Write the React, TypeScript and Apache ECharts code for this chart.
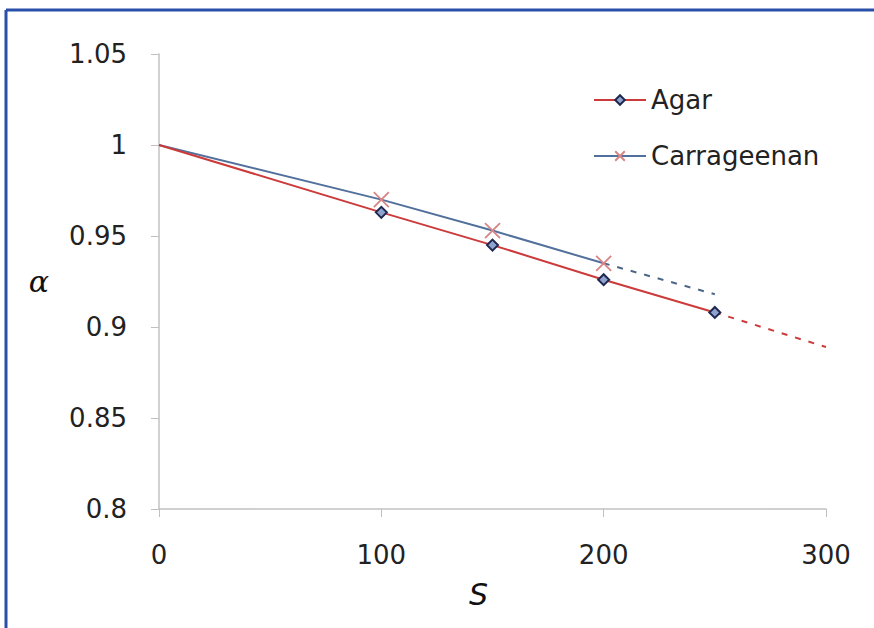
import React, { useEffect, useRef } from "react";
import * as echarts from "echarts";

const sAgar = [0, 100, 150, 200, 250];
const alphaAgar = [1, 0.963, 0.945, 0.926, 0.908];
const sCarr = [0, 100, 150, 200];
const alphaCarr = [1, 0.970, 0.953, 0.935];
const sAgarExt = [250, 300];
const alphaAgarExt = [0.908, 0.889];
const sCarrExt = [200, 250];
const alphaCarrExt = [0.935, 0.918];

const xTicks = { min: 0, max: 300, interval: 100 };
const yTicks = { min: 0.8, max: 1.05, interval: 0.05 };

// first point (origin of curve) drawn without a marker, as in the reference
const pair = (xs: number[], ys: number[]) =>
  xs.map((x, i) => (i === 0 ? { value: [x, ys[i]], symbol: "none" } : { value: [x, ys[i]] }));
const plain = (xs: number[], ys: number[]) => xs.map((x, i) => [x, ys[i]]);

const RED = "#cc3a3a";
const BLUE = "#52709c";
const FONT = "DejaVu Sans";
const FS = 26;

export default function App() {
  const ref = useRef<HTMLDivElement>(null);
  useEffect(() => {
    document.body.style.margin = "0";
    const chart = echarts.init(ref.current!, null, { renderer: "svg" });
    chart.setOption({
      animation: false,
      backgroundColor: "#ffffff",
      textStyle: { fontFamily: FONT },
      grid: { left: 159, right: 48, top: 54, bottom: 119 },
      legend: {
        orient: "vertical",
        left: 588,
        top: 82,
        itemWidth: 52,
        itemHeight: 12,
        itemGap: 30,
        textStyle: { fontSize: FS, color: "#222", fontFamily: FONT },
        data: ["Agar", "Carrageenan"],
      },
      xAxis: {
        type: "value",
        ...xTicks,
        name: "S",
        nameLocation: "middle",
        nameGap: 70,
        nameTextStyle: {
          fontSize: 30,
          fontStyle: "italic",
          color: "#111",
          fontFamily: "DejaVu Sans",
          padding: [0, 28, 0, 0],
        },
        axisLine: { lineStyle: { color: "#c4c0c0", width: 1.5 } },
        axisTick: { show: true, length: 8, lineStyle: { color: "#c4c0c0" } },
        axisLabel: { fontSize: FS, color: "#222", margin: 33 },
        splitLine: { show: false },
      },
      yAxis: {
        type: "value",
        ...yTicks,
        name: "α",
        nameLocation: "middle",
        nameRotate: 0,
        nameGap: 110,
        nameTextStyle: { fontSize: 30, fontStyle: "italic", color: "#111", fontFamily: "DejaVu Serif" },
        axisLine: { show: true, lineStyle: { color: "#c4c0c0", width: 1.5 } },
        axisTick: { show: true, length: 8, lineStyle: { color: "#c4c0c0" } },
        axisLabel: { fontSize: FS, color: "#222", margin: 32 },
        splitLine: { show: false },
      },
      series: [
        {
          name: "Agar",
          type: "line",
          data: pair(sAgar, alphaAgar),
          lineStyle: { color: RED, width: 2 },
          symbol: "diamond",
          symbolSize: 11,
          showSymbol: true,
          itemStyle: { color: "#8fa3cf", borderColor: "#1f2850", borderWidth: 2 },
          z: 3,
        },
        {
          name: "Carrageenan",
          type: "line",
          data: pair(sCarr, alphaCarr),
          lineStyle: { color: BLUE, width: 2 },
          symbol: "path://M0,0L10,10M10,0L0,10",
          symbolSize: 15,
          itemStyle: { color: "rgba(0,0,0,0)", borderColor: "#d88585", borderWidth: 1.8 },
          z: 2,
        },
        {
          name: "AgarExt",
          type: "line",
          data: plain(sAgarExt, alphaAgarExt),
          lineStyle: { color: RED, width: 2, type: [6, 8] },
          symbol: "none",
          z: 1,
        },
        {
          name: "CarrExt",
          type: "line",
          data: plain(sCarrExt, alphaCarrExt),
          lineStyle: { color: "#4d6688", width: 2, type: [6, 8] },
          symbol: "none",
          z: 1,
        },
      ],
      graphic: [
        { type: "line", shape: { x1: 6, y1: 10, x2: 874, y2: 10 }, style: { stroke: "#2a4fa8", lineWidth: 3 } },
        { type: "line", shape: { x1: 6, y1: 10, x2: 6, y2: 628 }, style: { stroke: "#2a4fa8", lineWidth: 3 } },
      ],
    });
    return () => chart.dispose();
  }, []);
  return <div ref={ref} style={{ position: "absolute", left: 0, top: 0, width: 874, height: 628 }} />;
}
